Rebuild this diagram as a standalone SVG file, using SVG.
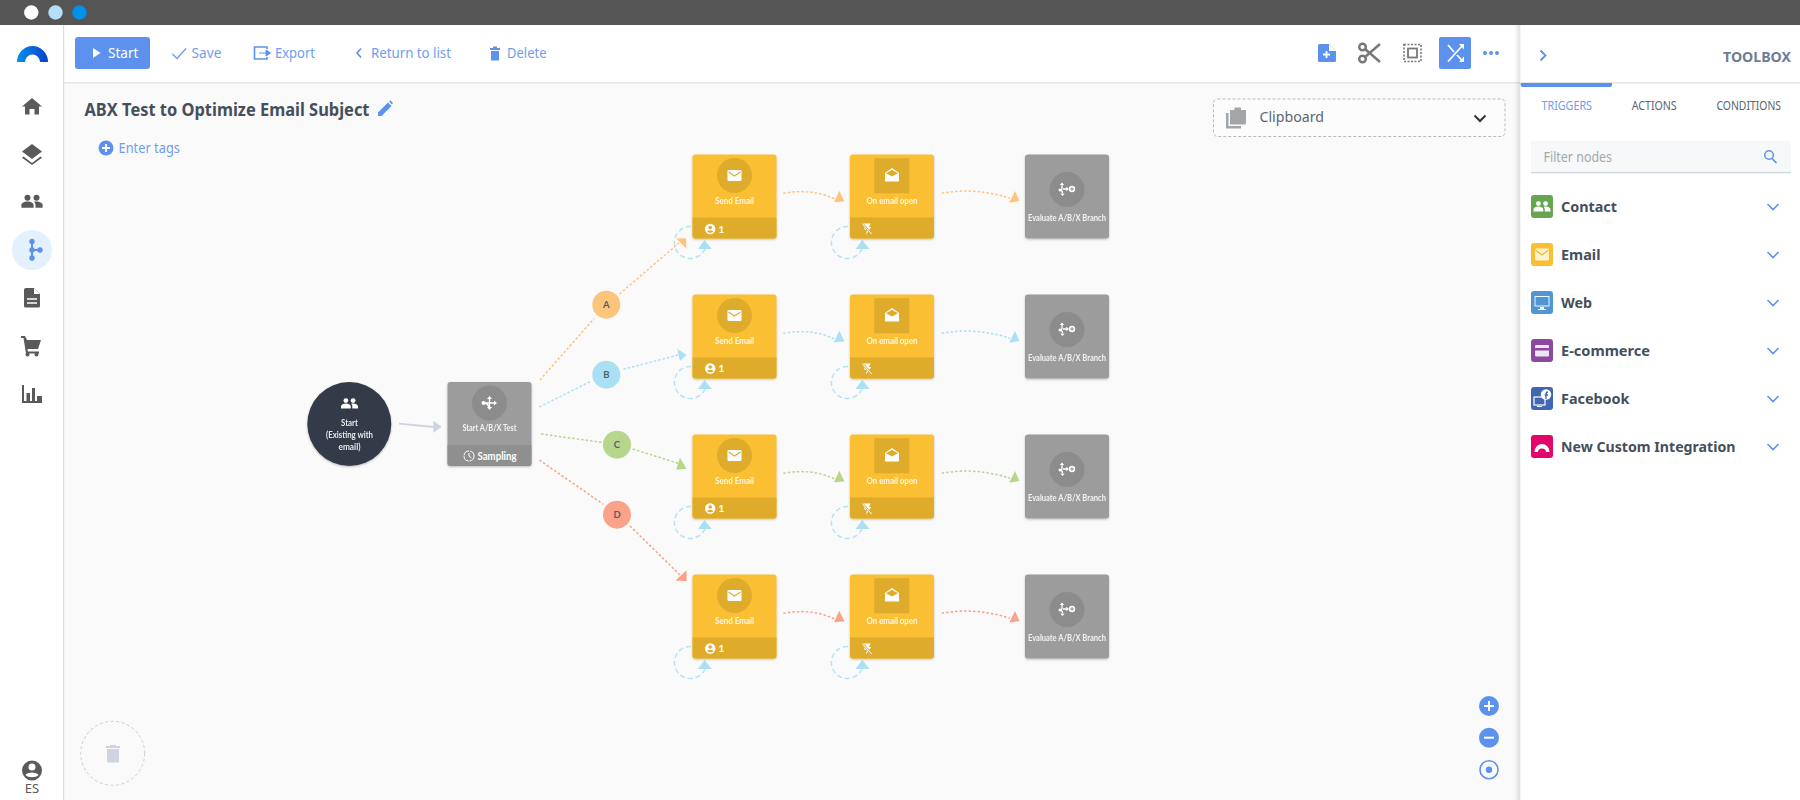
<svg xmlns="http://www.w3.org/2000/svg" width="1800" height="800" viewBox="0 0 1800 800">
<style>
text{font-family:"Noto Sans","Open Sans","Liberation Sans",sans-serif}
.ui{font-size:14px;fill:#6f9df0}
.nl{font-family:Lato,"Noto Sans",sans-serif;font-size:10px;font-weight:700;fill:#fff;text-anchor:middle;opacity:.88}
.ft{font-family:Lato,"Noto Sans",sans-serif;font-weight:700;fill:#fff}
.tb{font-size:15px;font-weight:700;fill:#454f5b}
.tab{font-size:12px;fill:#5b6570}
.ic{fill:#5a5a5a}
.dot{fill:none;stroke-width:1.500;stroke-dasharray:2.500 2}
.lp{fill:none;stroke:#b4e3f3;stroke-width:1.500;stroke-dasharray:5 3}
.blue{fill:#5c92ed}
.chev{fill:none;stroke:#5c92ed;stroke-width:1.600}
.bl{font-family:Lato,"Noto Sans",sans-serif;font-size:9.500px;font-weight:700;fill:#555f68;text-anchor:middle}
</style>
<defs>
<filter id="sh" x="-10%" y="-10%" width="120%" height="125%"><feDropShadow dx="0" dy="1" stdDeviation="1" flood-color="#000" flood-opacity=".25"/></filter>
<linearGradient id="lg" x1="0" x2="1" y1="0" y2="0"><stop offset="0" stop-color="#0091ea"/><stop offset="1" stop-color="#0a3fd0"/></linearGradient>
<linearGradient id="ps" x1="0" x2="1" y1="0" y2="0"><stop offset="0" stop-color="#000" stop-opacity="0"/><stop offset="1" stop-color="#000" stop-opacity=".12"/></linearGradient>
<g id="people"><circle cx="-3.600" cy="-3.400" r="2.400"/><circle cx="3.600" cy="-3.400" r="2.400"/><path d="M-8.500 4.500V2.500C-8.500 .6-6-.4-3.600-.4S1.300 .6 1.300 2.500V4.500ZM2.800 4.500V2.500C2.800 1.300 2.300 .4 1.600-.2 4.500-.9 8.500 .3 8.500 2.500V4.500Z"/></g>
<g id="env"><rect x="-7" y="-5.500" width="14" height="11" rx="1" fill="#fff"/><path d="M-6-3.500 0 .5 6-3.500" fill="none" stroke="#deac2a" stroke-width="1.100"/></g>
<g id="envo"><path d="M-7-1.500 0-6.500 7-1.500V6.500A.8 .8 0 0 1 6.200 7H-6.200A.8 .8 0 0 1-7 6.500Z" fill="#fff"/><path d="M-6-1.300 0 2 6-1.300 0-4.800Z" fill="#deac2a"/></g>
<g id="person"><circle r="5.200" fill="#fff"/><circle cy="-1.500" r="1.800" fill="#deac2a"/><path d="M-3.200 2.800C-2.500 1 2.500 1 3.200 2.800 1.500 4.200-1.500 4.200-3.200 2.800Z" fill="#deac2a"/></g>
<g id="flash"><path d="M-4-5H4L2-1.500H4.500L-.5 6 .2 1.500H-2Z" fill="#fff"/><path d="M-4.500-5 5 5.500" stroke="#deac2a" stroke-width="2.200"/><path d="M-4.500-5 5 5.500" stroke="#fff" stroke-width="1"/></g>
<g id="eval"><circle cx="5" cy="-.5" r="3.200" fill="#fff"/><path d="M3.200-.5H6.800M5-2.300V1.300" stroke="#8c8c8c" stroke-width="1"/><path d="M-5-5V-1.500C-5-.5-6 .5-7 .5M-7 .5C-6 .5-4.500 1.500-4.500 3.500M-4-.5H-.5" fill="none" stroke="#fff" stroke-width="1.300"/><path d="M-5-7-2.800-4.500H-7.200ZM-4.500 6.500-2.300 4H-6.700ZM2 -.5-.8 1.800V-2.800Z" fill="#fff"/><circle cx="-7" cy=".5" r="1.500" fill="#fff"/></g>
<g id="mv" fill="#fff" stroke="#fff"><path d="M-6 0H6M0-5V5M-6 0C-2 0-1 2 0 5" fill="none" stroke-width="1.300"/><path d="M0-7 2.500-4H-2.500ZM0 7 2.500 4H-2.500ZM7.500 0 4.500 2.500V-2.500Z" stroke="none"/><circle cx="-6" cy="0" r="2" stroke="none"/></g>
<path id="fb" d="M0 63H84V81A3 3 0 0 1 81 84H3A3 3 0 0 1 0 81Z"/>
<path id="chv" d="M-5.500-3 0 2.500 5.500-3" class="chev"/>
</defs>

<rect id="bg" width="1800" height="800" fill="#fafafa"/>
<g id="window-bar"><rect width="1800" height="25" fill="#555"/><circle cx="31.300" cy="12.500" r="7.200" fill="#fff"/><circle cx="55.500" cy="12.500" r="7.200" fill="#b5dff8"/><circle cx="79.500" cy="12.500" r="7.200" fill="#0091ea"/></g>

<g id="toolbar">
<rect x="0" y="25" width="1520" height="57" fill="#fff"/>
<rect x="63" y="82" width="1458" height="1.500" fill="#e4e4e4"/>
<rect x="75" y="37" width="75" height="32" rx="3" fill="#5c92ed"/>
<path d="M93 48V58L100.500 53Z" fill="#fff"/>
<text x="108" y="58" font-size="14" fill="#fff" textLength="30.500" lengthAdjust="spacingAndGlyphs">Start</text>
<path d="M172.500 54 177 58.500 186 48.500" fill="none" stroke="#6f9df0" stroke-width="1.400"/>
<text x="191.500" y="58" class="ui" textLength="30" lengthAdjust="spacingAndGlyphs">Save</text>
<path d="M267 49V47H254.500V59H267V57" fill="none" stroke="#5c92ed" stroke-width="1.600"/><path d="M259 53H266V50L270.500 53 266 56V53" fill="#5c92ed" stroke="#5c92ed"/>
<text x="275" y="58" class="ui" textLength="40" lengthAdjust="spacingAndGlyphs">Export</text>
<path d="M361 48.500 357 53 361 57.500" fill="none" stroke="#5c92ed" stroke-width="1.600"/>
<text x="371" y="58" class="ui" textLength="80" lengthAdjust="spacingAndGlyphs">Return to list</text>
<path d="M490 48H500V50H490ZM493 46.500H497V48H493ZM491 51H499V60.500H491Z" class="blue"/>
<text x="507" y="58" class="ui" textLength="39.500" lengthAdjust="spacingAndGlyphs">Delete</text>
<path d="M1319 44H1329L1336 51V60.500A1.500 1.500 0 0 1 1334.500 62H1319.500A1.500 1.500 0 0 1 1318 60.500V45Z" class="blue"/><path d="M1323 54.500H1330M1326.500 51V58" stroke="#fff" stroke-width="1.800"/><path d="M1329 44V51H1336" fill="#fff"/>
<g fill="none" stroke="#777" stroke-width="2.400"><circle cx="1362.500" cy="47" r="3.300"/><circle cx="1362.500" cy="59" r="3.300"/><path d="M1365 49 1380 62M1365 57 1380 44"/></g>
<rect x="1404" y="44.500" width="17" height="17" fill="none" stroke="#777" stroke-width="1.600" stroke-dasharray="2 1.500"/><rect x="1408" y="48.500" width="9" height="9" fill="none" stroke="#777" stroke-width="1.800"/>
<rect x="1439" y="37" width="32" height="32" rx="2" fill="#5c92ed"/>
<g fill="none" stroke="#fff" stroke-width="1.800"><path d="M1448 45 1454 52M1457 55 1463 61.500M1448 61.500 1463 45"/></g><path d="M1464 44V49.500L1459 44ZM1464 62V56.500L1459 62Z" fill="#fff"/>
<circle cx="1485" cy="53" r="2" class="blue"/><circle cx="1491" cy="53" r="2" class="blue"/><circle cx="1497" cy="53" r="2" class="blue"/>
</g>

<g id="sidebar">
<rect x="0" y="25" width="63" height="775" fill="#fff"/><rect x="63" y="25" width="1.200" height="775" fill="#ddd"/>
<path d="M17 62A15.500 16 0 0 1 48 62H40A7.500 7.500 0 0 0 25 62Z" fill="url(#lg)"/>
<path class="ic" d="M32 98 42 106.500H39V114.500H34.500V109H29.500V114.500H25V106.500H22Z"/>
<path class="ic" d="M32 144 42 151.500 32 159 22 151.500ZM23.500 156.500 32 163 40.500 156.500 42 157.800 32 165 22 157.800Z"/>
<use href="#people" class="ic" transform="translate(32 202) scale(1.250)"/>
<circle cx="32" cy="250" r="20" fill="#e3f0fe"/>
<g class="blue"><rect x="31" y="241" width="2" height="18"/><rect x="32" y="249" width="8" height="2"/><circle cx="32" cy="241.500" r="2.700"/><circle cx="32" cy="250" r="2.700"/><circle cx="32" cy="258" r="2.700"/><circle cx="40" cy="250" r="2.700"/></g>
<path class="ic" d="M26 288H34L40 294V306A1.500 1.500 0 0 1 38.500 307.500H25.500A1.500 1.500 0 0 1 24 306V290A2 2 0 0 1 26 288Z"/><path d="M27 299H37M27 303H37" stroke="#fff" stroke-width="1.600"/><path d="M34 288V294H40" fill="#fff"/>
<path class="ic" d="M21 336H25L27 340H41L38 349H27.500L28 351.500H39V353.500H26L23.500 338H21Z"/><circle class="ic" cx="27.500" cy="354.500" r="2"/><circle class="ic" cx="36.500" cy="354.500" r="2"/>
<path class="ic" d="M22 385H24V401H22ZM26.500 393H30V401H26.500ZM32 388H35V401H32ZM37 396H42V403H22V401H37Z"/>
<circle cx="32" cy="770.500" r="10" class="ic"/><circle cx="32" cy="767" r="3.500" fill="#fff"/><path d="M25.500 775C27 771.500 37 771.500 38.500 775 36 778 28 778 25.500 775Z" fill="#fff"/>
<text x="32" y="793" font-size="13" fill="#5a5a5a" text-anchor="middle">ES</text>
</g>

<g id="canvas-ui">
<text x="84.500" y="115.500" font-size="18" font-weight="700" fill="#454f5b" textLength="285" lengthAdjust="spacingAndGlyphs">ABX Test to Optimize Email Subject</text>
<path d="M378 116V112.500L388 102.500 391.500 106 381.500 116ZM389 101.500 390.500 100.500 393 103 392 104.500Z" class="blue"/>
<circle cx="106" cy="148" r="7.500" class="blue"/><path d="M102 148H110M106 144V152" stroke="#fff" stroke-width="1.800"/>
<text x="118.500" y="153" class="ui" textLength="61.500" lengthAdjust="spacingAndGlyphs">Enter tags</text>
<rect x="1213.500" y="99" width="291.500" height="37.500" rx="4" fill="#fcfcfc" stroke="#bbb" stroke-dasharray="3 2"/>
<path d="M1226 113H1228.500V126H1241V128.500H1226Z" fill="#a3a6a8"/><path d="M1230 110H1234.500V107.500H1241V110H1246V123A1.500 1.500 0 0 1 1244.500 124.500H1230Z" fill="#a3a6a8"/>
<text x="1259.500" y="122" font-size="15" fill="#5d666e" textLength="64.500" lengthAdjust="spacingAndGlyphs">Clipboard</text>
<path d="M1474.500 115.500 1480 121 1485.500 115.500" fill="none" stroke="#333" stroke-width="2"/>
<circle cx="112.700" cy="753.300" r="32" fill="none" stroke="#ccc" stroke-dasharray="3 2.500"/>
<path d="M106 746H120V748H106ZM110 745H116V746H110ZM107 749H119V762.500H107Z" fill="#cfd4de"/>
<circle cx="1489" cy="706" r="10" class="blue"/><path d="M1484 706H1494M1489 701V711" stroke="#fff" stroke-width="2"/>
<circle cx="1489" cy="737.700" r="10" class="blue"/><path d="M1484 737.700H1494" stroke="#fff" stroke-width="2"/>
<circle cx="1489" cy="769.700" r="9" fill="none" stroke="#5c92ed" stroke-width="1.600"/><circle cx="1489" cy="769.700" r="3.200" class="blue"/>
</g>

<g id="connectors">
<path d="M399 423.700 433.500 427" fill="none" stroke="#cdd3de" stroke-width="1.800"/><path d="M433.300 420.700 441.700 426.700 433.300 432.700Z" fill="#cdd3de"/>
<g stroke="#fdc57b" class="dot"><path d="M540 380 594 318.500M619.500 294 679 243"/></g><path d="M676.200 238.500 686 238.200 686.500 248.800Z" fill="#fdc57b"/>
<g stroke="#aae0f3" class="dot"><path d="M539.300 407 590 381.700M623.300 369.300 678.300 355"/></g><path d="M677.200 348.800 686.500 355 680 361Z" fill="#aae0f3"/>
<g stroke="#b6d68c" class="dot"><path d="M541 434 601.700 442.300M632.700 449 678.300 463.300"/></g><path d="M680 457.800 686.500 468.800 676.200 469.800Z" fill="#b6d68c"/>
<g stroke="#fba28a" class="dot"><path d="M539.300 460 603.300 504.300M630 526 680 575"/></g><path d="M686.500 570.200 686.500 581.200 675.500 580.500Z" fill="#fba28a"/>

<g stroke="#fdc57b" class="dot"><path d="M783.300 193.300Q813 188 835 199.300M941.700 193.300Q975 187 1010 198.300"/></g>
<path d="M839.300 190.700 844.500 201.500 834 202.300ZM1015 191 1019.500 201 1009.200 202.800Z" fill="#fdc57b"/>
<g stroke="#aae0f3" class="dot"><path d="M783.300 333.300Q813 328 835 339.300M941.700 333.300Q975 327 1010 338.300"/></g>
<path d="M839.300 330.700 844.500 341.500 834 342.300ZM1015 331 1019.500 341 1009.200 342.800Z" fill="#aae0f3"/>
<g stroke="#b6d68c" class="dot"><path d="M783.300 473.300Q813 468 835 479.300M941.700 473.300Q975 467 1010 478.300"/></g>
<path d="M839.300 470.700 844.500 481.500 834 482.300ZM1015 471 1019.500 481 1009.200 482.800Z" fill="#b6d68c"/>
<g stroke="#fba28a" class="dot"><path d="M783.300 613.300Q813 608 835 619.300M941.700 613.300Q975 607 1010 618.300"/></g>
<path d="M839.300 610.700 844.500 621.500 834 622.300ZM1015 611 1019.500 621 1009.200 622.800Z" fill="#fba28a"/>

<g class="lp">
<path d="M691 226.500A16 16 0 1 0 705 249"/><path d="M848 226.500A16 16 0 1 0 862 249"/>
<path d="M691 366.500A16 16 0 1 0 705 389"/><path d="M848 366.500A16 16 0 1 0 862 389"/>
<path d="M691 506.500A16 16 0 1 0 705 529"/><path d="M848 506.500A16 16 0 1 0 862 529"/>
<path d="M691 646.500A16 16 0 1 0 705 669"/><path d="M848 646.500A16 16 0 1 0 862 669"/>
</g>
<g fill="#aae0f3">
<path d="M704.500 240 711.700 249H697.900ZM862.300 240 869.500 249H855.500Z"/>
<path d="M704.500 380 711.700 389H697.900ZM862.300 380 869.500 389H855.500Z"/>
<path d="M704.500 520 711.700 529H697.900ZM862.300 520 869.500 529H855.500Z"/>
<path d="M704.500 660 711.700 669H697.900ZM862.300 660 869.500 669H855.500Z"/>
</g>
</g>

<g id="node-start">
<circle cx="349.300" cy="424" r="42" fill="#333b46" filter="url(#sh)"/>
<use href="#people" fill="#fff" transform="translate(349.500 404)"/>
<text class="nl" x="349.500" y="425.500" textLength="17" lengthAdjust="spacingAndGlyphs">Start</text><text class="nl" x="349.500" y="437.500" textLength="47" lengthAdjust="spacingAndGlyphs">(Existing with</text><text class="nl" x="349.500" y="449.500" textLength="22" lengthAdjust="spacingAndGlyphs">email)</text>
</g>
<g id="node-abx" transform="translate(447.500 382)">
<rect width="84" height="84" rx="3" fill="#9c9c9c" filter="url(#sh)"/><use href="#fb" fill="#8f8f8f"/>
<circle cx="42" cy="21" r="17.500" fill="#8c8c8c"/><use href="#mv" transform="translate(42 21)"/>
<text class="nl" x="42" y="48.500" textLength="54" lengthAdjust="spacingAndGlyphs">Start A/B/X Test</text>
<circle cx="21.500" cy="74" r="5" fill="none" stroke="#fff" stroke-width="1" stroke-dasharray="7 1"/><path d="M21.500 71V74L24 76" fill="none" stroke="#fff"/>
<text class="ft" x="30" y="78" font-size="11.500" textLength="39" lengthAdjust="spacingAndGlyphs">Sampling</text>
</g>

<g id="branch-a"><circle cx="606.300" cy="304.700" r="14" fill="#fdc57b"/><text class="bl" x="606.300" y="308">A</text></g>
<g id="branch-b"><circle cx="606.300" cy="374.700" r="14" fill="#aae0f3"/><text class="bl" x="606.300" y="378">B</text></g>
<g id="branch-c"><circle cx="617" cy="444.700" r="14" fill="#b6d68c"/><text class="bl" x="617" y="448">C</text></g>
<g id="branch-d"><circle cx="617" cy="514.700" r="14" fill="#fba28a"/><text class="bl" x="617" y="518">D</text></g>

<g id="send-a" transform="translate(692.500 154.500)"><rect width="84" height="84" rx="3" fill="#fabf30" filter="url(#sh)"/><use href="#fb" fill="#deac2a"/><circle cx="42" cy="21" r="17.500" fill="#deac2a"/><use href="#env" transform="translate(42 21)"/><text class="nl" x="42" y="49" textLength="39" lengthAdjust="spacingAndGlyphs">Send Email</text><use href="#person" transform="translate(17.700 74.500)"/><text class="ft" x="26" y="78" font-size="10">1</text></g>
<g id="open-a" transform="translate(850 154.500)"><rect width="84" height="84" rx="3" fill="#fabf30" filter="url(#sh)"/><use href="#fb" fill="#deac2a"/><rect x="24.300" y="3.700" width="35" height="35" fill="#deac2a"/><use href="#envo" transform="translate(42 20)"/><text class="nl" x="42" y="49" textLength="51" lengthAdjust="spacingAndGlyphs">On email open</text><use href="#flash" transform="translate(16.700 74)"/></g>
<g id="eval-a" transform="translate(1025 154.500)"><rect width="84" height="84" rx="3" fill="#9c9c9c" filter="url(#sh)"/><circle cx="42" cy="35" r="17.500" fill="#8c8c8c"/><use href="#eval" transform="translate(42 35)"/><text class="nl" x="42" y="66" textLength="78" lengthAdjust="spacingAndGlyphs">Evaluate A/B/X Branch</text></g>

<g id="send-b" transform="translate(692.500 294.500)"><rect width="84" height="84" rx="3" fill="#fabf30" filter="url(#sh)"/><use href="#fb" fill="#deac2a"/><circle cx="42" cy="21" r="17.500" fill="#deac2a"/><use href="#env" transform="translate(42 21)"/><text class="nl" x="42" y="49" textLength="39" lengthAdjust="spacingAndGlyphs">Send Email</text><use href="#person" transform="translate(17.700 74)"/><text class="ft" x="26" y="77.500" font-size="10">1</text></g>
<g id="open-b" transform="translate(850 294.500)"><rect width="84" height="84" rx="3" fill="#fabf30" filter="url(#sh)"/><use href="#fb" fill="#deac2a"/><rect x="24.300" y="3.700" width="35" height="35" fill="#deac2a"/><use href="#envo" transform="translate(42 20)"/><text class="nl" x="42" y="49" textLength="51" lengthAdjust="spacingAndGlyphs">On email open</text><use href="#flash" transform="translate(16.700 74)"/></g>
<g id="eval-b" transform="translate(1025 294.500)"><rect width="84" height="84" rx="3" fill="#9c9c9c" filter="url(#sh)"/><circle cx="42" cy="35" r="17.500" fill="#8c8c8c"/><use href="#eval" transform="translate(42 35)"/><text class="nl" x="42" y="66" textLength="78" lengthAdjust="spacingAndGlyphs">Evaluate A/B/X Branch</text></g>

<g id="send-c" transform="translate(692.500 434.500)"><rect width="84" height="84" rx="3" fill="#fabf30" filter="url(#sh)"/><use href="#fb" fill="#deac2a"/><circle cx="42" cy="21" r="17.500" fill="#deac2a"/><use href="#env" transform="translate(42 21)"/><text class="nl" x="42" y="49" textLength="39" lengthAdjust="spacingAndGlyphs">Send Email</text><use href="#person" transform="translate(17.700 74)"/><text class="ft" x="26" y="77.500" font-size="10">1</text></g>
<g id="open-c" transform="translate(850 434.500)"><rect width="84" height="84" rx="3" fill="#fabf30" filter="url(#sh)"/><use href="#fb" fill="#deac2a"/><rect x="24.300" y="3.700" width="35" height="35" fill="#deac2a"/><use href="#envo" transform="translate(42 20)"/><text class="nl" x="42" y="49" textLength="51" lengthAdjust="spacingAndGlyphs">On email open</text><use href="#flash" transform="translate(16.700 74)"/></g>
<g id="eval-c" transform="translate(1025 434.500)"><rect width="84" height="84" rx="3" fill="#9c9c9c" filter="url(#sh)"/><circle cx="42" cy="35" r="17.500" fill="#8c8c8c"/><use href="#eval" transform="translate(42 35)"/><text class="nl" x="42" y="66" textLength="78" lengthAdjust="spacingAndGlyphs">Evaluate A/B/X Branch</text></g>

<g id="send-d" transform="translate(692.500 574.500)"><rect width="84" height="84" rx="3" fill="#fabf30" filter="url(#sh)"/><use href="#fb" fill="#deac2a"/><circle cx="42" cy="21" r="17.500" fill="#deac2a"/><use href="#env" transform="translate(42 21)"/><text class="nl" x="42" y="49" textLength="39" lengthAdjust="spacingAndGlyphs">Send Email</text><use href="#person" transform="translate(17.700 74)"/><text class="ft" x="26" y="77.500" font-size="10">1</text></g>
<g id="open-d" transform="translate(850 574.500)"><rect width="84" height="84" rx="3" fill="#fabf30" filter="url(#sh)"/><use href="#fb" fill="#deac2a"/><rect x="24.300" y="3.700" width="35" height="35" fill="#deac2a"/><use href="#envo" transform="translate(42 20)"/><text class="nl" x="42" y="49" textLength="51" lengthAdjust="spacingAndGlyphs">On email open</text><use href="#flash" transform="translate(16.700 74)"/></g>
<g id="eval-d" transform="translate(1025 574.500)"><rect width="84" height="84" rx="3" fill="#9c9c9c" filter="url(#sh)"/><circle cx="42" cy="35" r="17.500" fill="#8c8c8c"/><use href="#eval" transform="translate(42 35)"/><text class="nl" x="42" y="66" textLength="78" lengthAdjust="spacingAndGlyphs">Evaluate A/B/X Branch</text></g>

<g id="toolbox">
<rect x="1514" y="25" width="6.500" height="775" fill="url(#ps)"/>
<rect x="1520.500" y="25" width="279.500" height="775" fill="#fff"/>
<rect x="1520.500" y="82" width="279.500" height="1.500" fill="#e4e4e4"/>
<path d="M1520.700 83H1612V85A2 2 0 0 1 1610 87H1523A2 2 0 0 1 1520.700 85Z" class="blue"/>
<path d="M1540.500 50.500 1545.500 55.500 1540.500 60.500" fill="none" stroke="#5c92ed" stroke-width="1.800"/>
<text x="1723" y="62" font-size="15" font-weight="700" fill="#6d7d95" textLength="68" lengthAdjust="spacingAndGlyphs">TOOLBOX</text>
<text x="1541.500" y="109.500" class="tab" style="fill:#6f9df0" textLength="50.500" lengthAdjust="spacingAndGlyphs">TRIGGERS</text>
<text x="1631.700" y="109.500" class="tab" textLength="45" lengthAdjust="spacingAndGlyphs">ACTIONS</text>
<text x="1716.500" y="109.500" class="tab" textLength="64.500" lengthAdjust="spacingAndGlyphs">CONDITIONS</text>
<rect x="1531" y="140.700" width="260" height="32" fill="#f6f8fa"/><rect x="1531" y="172" width="260" height="1.200" fill="#cdd3de"/>
<text x="1543.500" y="162" font-size="13.500" fill="#a5a8ab" textLength="68.500" lengthAdjust="spacingAndGlyphs">Filter nodes</text>
<circle cx="1769" cy="155" r="4.300" fill="none" stroke="#5c92ed" stroke-width="1.500"/><path d="M1772 158.500 1776.500 163" stroke="#5c92ed" stroke-width="1.700"/>

<rect x="1531" y="195" width="22" height="23" rx="3" fill="#67a54e"/><use href="#people" fill="#fff" transform="translate(1542 207)"/>
<text class="tb" x="1561" y="211.500" textLength="56" lengthAdjust="spacingAndGlyphs">Contact</text><use href="#chv" transform="translate(1773 207)"/>

<rect x="1531" y="243" width="22" height="23" rx="3" fill="#fabf30"/><rect x="1535" y="248.500" width="14" height="12" rx="1" fill="#fff3d0"/><path d="M1535.500 250 1542 255 1548.500 250" fill="none" stroke="#f1b53a" stroke-width="1.200"/>
<text class="tb" x="1561" y="259.500" textLength="39.500" lengthAdjust="spacingAndGlyphs">Email</text><use href="#chv" transform="translate(1773 255)"/>

<rect x="1531" y="291" width="22" height="23" rx="3" fill="#4f96d3"/><rect x="1534.500" y="296" width="15" height="10.500" fill="#fff" fill-opacity=".9"/><rect x="1535.500" y="297" width="13" height="8.500" fill="#4f96d3"/><path d="M1540 307H1544V309H1546V310H1538V309H1540Z" fill="#fff"/>
<text class="tb" x="1561" y="307.500" textLength="31" lengthAdjust="spacingAndGlyphs">Web</text><use href="#chv" transform="translate(1773 303)"/>

<rect x="1531" y="339" width="22" height="23" rx="3" fill="#8b4a9e"/><rect x="1535" y="345" width="14" height="11.500" rx="1" fill="#f0e4f3"/><rect x="1535" y="348" width="14" height="2.500" fill="#8b4a9e"/>
<text class="tb" x="1561" y="355.500" textLength="89" lengthAdjust="spacingAndGlyphs">E-commerce</text><use href="#chv" transform="translate(1773 351)"/>

<rect x="1531" y="387" width="22" height="23" rx="3" fill="#4267b2"/><rect x="1534" y="397" width="11" height="8" fill="none" stroke="#fff" stroke-width="1.200"/><path d="M1537 406.500H1542" stroke="#fff"/><circle cx="1546" cy="394.500" r="5.200" fill="#fff"/><path d="M1546 399V394.500C1546 392.500 1547 392 1548 392M1544.700 395H1548" fill="none" stroke="#4267b2" stroke-width="1.300"/>
<text class="tb" x="1561" y="403.500" textLength="68.500" lengthAdjust="spacingAndGlyphs">Facebook</text><use href="#chv" transform="translate(1773 399)"/>

<rect x="1531" y="435" width="22" height="23" rx="3" fill="#e2056a"/><path d="M1534.500 452A7.500 8 0 0 1 1549.500 452H1546A4 3.500 0 0 0 1538 452Z" fill="#fff"/>
<text class="tb" x="1561" y="451.500" textLength="174.500" lengthAdjust="spacingAndGlyphs">New Custom Integration</text><use href="#chv" transform="translate(1773 447)"/>
</g>
</svg>
